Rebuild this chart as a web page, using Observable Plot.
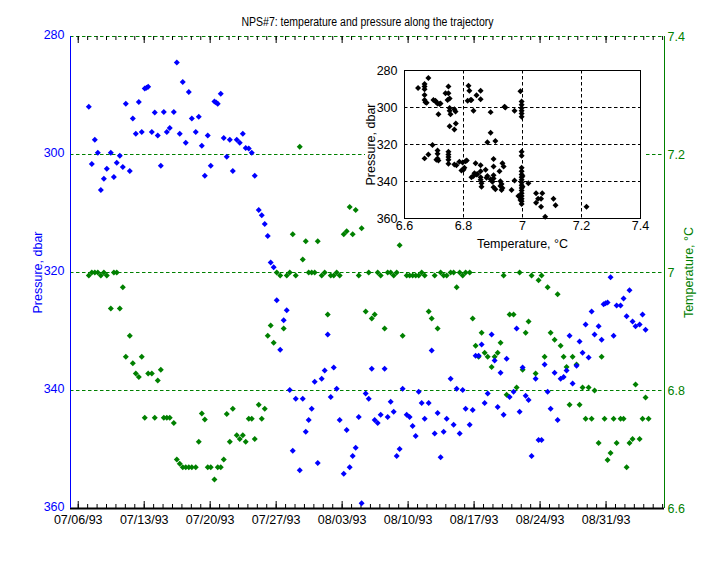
<!DOCTYPE html>
<html><head><meta charset="utf-8">
<script src="https://cdn.jsdelivr.net/npm/d3@7"></script>
<script src="https://cdn.jsdelivr.net/npm/@observablehq/plot@0.6"></script>
<style>
body{margin:0;background:#fff;}
#wrap{position:relative;width:714px;height:566px;}
#inset{position:absolute;left:365px;top:60px;}
svg{overflow:visible;}
</style></head><body><div id="wrap"><div id="main"></div><div id="inset"></div></div>
<script>
const FONT = '"Liberation Sans", Arial, Helvetica, sans-serif';
const BLUE = "#0000ff", GREEN = "#008000";
const title = "NPS#7: temperature and pressure along the trajectory";

// days since 07/06/93 00:00
const pressureDays = [
1.12,1.44,1.76,2.08,2.40,2.72,3.03,3.46,3.78,4.09,
4.41,4.73,5.05,5.47,5.79,6.11,6.43,6.74,7.06,7.24,
7.42,7.81,8.12,8.44,8.76,9.08,9.40,9.71,10.14,10.46,
10.77,11.09,11.41,11.73,12.05,12.47,12.79,13.11,13.43,13.74,
14.06,14.45,14.63,14.80,15.12,15.44,15.76,16.08,16.40,16.82,
17.14,17.46,17.77,18.09,18.41,18.73,19.15,19.47,19.79,20.11,
20.42,20.74,21.06,21.43,21.80,22.12,22.44,22.76,23.08,23.50,
23.82,24.14,24.45,24.77,25.09,25.41,25.83,26.15,26.47,26.79,
27.11,27.42,27.74,28.17,28.48,28.80,29.12,29.44,29.76,30.07,
30.50,30.82,31.14,31.45,31.77,32.09,32.51,32.83,33.15,33.47,
33.79,34.10,34.42,34.85,35.16,35.48,35.80,36.12,36.44,36.76,
37.18,37.50,37.82,38.13,38.45,38.77,39.09,39.51,39.83,40.15,
40.47,40.79,41.10,41.53,41.85,42.16,42.48,42.80,43.12,43.44,
43.86,44.18,44.50,44.81,45.13,45.45,45.77,46.19,46.51,46.83,
47.15,47.47,47.78,48.10,48.53,48.84,49.16,49.48,49.80,50.12,
50.54,50.86,51.18,51.50,51.81,52.13,52.45,52.87,53.19,53.51,
53.83,54.15,54.47,54.78,55.21,55.53,55.74,55.95,56.16,56.48,
56.80,57.12,57.54,57.86,58.18,58.49,58.81,59.13,59.56,59.87,60.19];
const pressureValues = [
291.9,301.6,297.5,299.7,306.0,304.1,302.4,299.7,303.8,301.4,
300.2,302.1,291.4,302.8,293.9,296.5,291.1,296.2,288.8,288.7,
288.5,296.2,292.9,296.8,301.9,292.8,296.2,295.5,292.8,284.4,
296.5,287.7,298.0,289.4,293.9,296.2,293.6,298.5,303.6,296.8,
301.9,291.0,291.2,291.4,289.7,297.2,300.4,297.5,302.8,297.5,
298.0,296.5,298.9,299.0,299.7,303.6,309.4,310.3,311.8,313.8,
318.3,319.1,324.7,333.1,328.1,326.4,339.9,350.2,341.4,353.5,
341.4,347.0,345.0,343.1,338.5,352.3,338.0,336.6,330.5,341.1,
336.1,339.7,345.0,354.1,346.7,353.0,351.1,349.7,344.5,359.1,
340.5,341.4,336.3,345.0,345.5,344.1,336.3,344.5,341.9,343.6,
351.1,349.9,339.7,344.1,344.5,346.0,347.7,340.2,342.1,344.8,
342.1,333.2,347.3,343.8,351.3,347.0,344.8,338.0,345.8,339.7,
347.3,339.9,343.1,345.8,343.3,334.1,334.1,332.2,342.1,340.5,
330.5,334.9,342.8,337.0,344.1,334.6,341.1,340.2,329.5,343.6,
336.1,340.9,341.6,351.1,338.0,348.4,348.4,335.6,340.2,343.1,
337.0,345.0,338.0,337.7,336.6,330.7,338.8,335.8,331.7,333.6,
328.8,334.4,326.6,330.5,329.1,331.4,325.4,325.2,325.1,320.8,
330.7,325.6,325.6,324.4,327.4,323.0,328.3,329.1,328.8,327.1,329.7];

const tempDays = [
1.12,1.44,1.76,2.08,2.40,2.72,3.03,3.46,3.78,4.09,
4.41,4.73,5.05,5.47,5.79,6.11,6.43,6.74,7.06,7.42,
7.81,8.12,8.44,8.76,9.08,9.40,9.71,10.14,10.46,10.77,
11.09,11.41,11.73,12.05,12.47,12.79,13.11,13.43,13.74,14.06,
14.45,14.80,15.12,15.44,15.76,16.08,16.40,16.82,17.14,17.46,
17.77,18.09,18.41,18.73,19.15,19.47,19.79,20.11,20.42,20.74,
21.06,21.43,21.80,22.12,22.44,22.76,23.08,23.50,23.82,24.14,
24.45,24.77,25.09,25.41,25.83,26.15,26.47,26.79,27.11,27.42,
27.74,28.17,28.48,28.80,29.12,29.44,29.76,30.07,30.50,30.82,
31.14,31.45,31.77,32.09,32.51,32.83,33.15,33.47,33.79,34.10,
34.42,34.85,35.16,35.48,35.80,36.12,36.44,36.76,37.18,37.50,
37.82,38.13,38.45,38.77,39.09,39.51,39.83,40.15,40.47,40.79,
41.10,41.53,41.85,42.16,42.48,42.80,43.12,43.44,43.86,44.18,
44.50,44.81,45.13,45.45,45.77,46.19,46.51,46.83,47.15,47.47,
47.78,48.10,48.53,48.84,49.16,49.48,49.80,50.12,50.54,50.86,
51.18,51.50,51.81,52.13,52.45,52.87,53.19,53.51,53.83,54.15,
54.47,54.78,55.21,55.53,55.84,56.16,56.48,56.80,57.12,57.54,
57.86,58.18,58.49,58.81,59.13,59.56,59.87,60.19,60.51];
const tempValues = [
6.995,7.000,7.000,7.000,6.995,7.000,6.995,6.939,7.000,7.000,
6.939,6.975,6.857,6.893,6.846,6.829,6.823,6.857,6.754,6.829,
6.829,6.754,6.817,6.835,6.754,6.754,6.754,6.745,6.683,6.676,
6.670,6.670,6.670,6.670,6.670,6.713,6.761,6.751,6.670,6.670,
6.649,6.670,6.670,6.683,6.760,6.713,6.769,6.724,6.718,6.724,
6.713,6.752,6.752,6.718,6.776,6.752,6.769,6.893,6.910,6.881,
7.000,6.995,6.905,6.995,7.000,7.065,6.995,7.213,7.022,7.053,
7.000,7.000,7.000,7.053,6.995,7.000,6.929,6.995,6.995,7.000,
6.995,7.065,7.070,7.111,7.065,7.106,6.995,7.075,6.934,7.000,
6.922,6.929,7.000,6.995,6.905,7.000,7.000,6.995,7.000,7.046,
6.893,6.995,6.995,6.995,6.995,6.995,7.000,6.995,6.934,6.922,
6.995,6.905,7.000,6.995,6.995,7.000,7.000,6.975,7.000,6.995,
7.000,7.000,6.922,6.876,6.857,6.898,6.864,6.857,6.840,6.857,
6.864,6.881,6.995,6.793,6.929,6.929,6.805,7.000,6.835,6.898,
6.917,6.995,6.829,6.987,6.995,6.857,6.975,6.898,6.886,6.963,
6.876,6.857,6.840,6.776,6.857,6.844,6.776,6.805,6.752,6.805,
6.752,6.800,6.711,6.857,6.752,6.682,6.694,6.752,6.711,6.752,
6.752,6.670,6.711,6.718,6.810,6.718,6.752,6.788,6.752];

const insetTemps = [
6.646,6.668,6.668,6.668,6.668,6.668,6.671,6.675,6.681,6.698,
6.705,6.708,6.712,6.719,6.722,6.715,6.739,6.749,6.746,6.749,
6.753,6.753,6.753,6.756,6.753,6.769,6.773,6.769,6.774,6.817,
6.820,6.814,6.824,6.827,6.834,6.844,6.858,6.858,6.892,6.939,
6.942,6.973,6.993,6.997,6.997,6.997,6.997,6.997,6.997,6.892,
6.881,6.908,6.695,6.668,6.681,6.712,6.712,6.712,6.715,6.708,
6.749,6.749,6.749,6.749,6.749,6.769,6.776,6.786,6.797,6.807,
6.811,6.793,6.800,6.803,6.827,6.834,6.841,6.837,6.844,6.847,
6.858,6.858,6.858,6.858,6.861,6.861,6.875,6.878,6.881,6.892,
6.898,6.902,6.902,6.902,6.902,6.902,6.908,6.922,6.925,6.929,
6.925,6.932,6.929,6.932,6.936,6.963,6.973,6.986,6.997,6.997,
6.997,6.997,6.997,6.997,6.997,6.997,6.997,6.997,6.997,6.997,
6.997,6.997,6.997,6.997,6.990,6.993,7.000,7.000,7.020,7.046,
7.046,7.053,7.063,7.067,7.063,7.077,7.105,7.112,7.217];
const insetPressures = [
289.4,287.3,288.7,290.2,293.2,296.0,297.1,297.4,284.0,296.0,
296.3,297.1,297.8,298.1,297.8,303.6,292.3,288.7,296.0,292.3,
295.2,300.3,301.8,303.6,310.1,301.0,302.1,311.9,308.7,288.2,
290.9,296.3,296.0,296.0,301.8,293.4,290.9,295.6,302.5,299.6,
300.0,301.8,291.2,296.7,298.5,300.3,301.8,303.2,305.0,313.7,
318.8,318.1,320.3,327.5,325.4,323.2,325.0,327.5,328.6,328.3,
323.9,325.4,326.8,328.3,330.4,330.8,331.2,329.3,329.7,329.0,
328.6,334.1,333.7,332.6,337.7,337.0,330.1,335.5,336.2,335.9,
331.2,334.4,337.7,339.1,341.0,342.8,333.7,338.0,337.0,338.8,
340.2,338.4,327.9,331.9,336.6,343.1,344.2,334.4,339.9,341.3,
342.4,343.5,344.6,330.1,331.9,344.6,339.5,347.8,323.9,326.1,
332.6,334.4,336.2,337.7,339.1,340.6,342.0,343.5,344.9,346.4,
347.8,349.3,350.7,352.2,348.2,350.0,337.0,342.8,341.0,346.4,
351.5,349.3,349.3,346.4,353.7,359.1,349.3,352.9,353.7];

const dateTickLabels = ["07/06/93","07/13/93","07/20/93","07/27/93","08/03/93","08/10/93","08/17/93","08/24/93","08/31/93"];
const pressureTicks = [280,300,320,340,360];
const tempTicks = [7.4,7.2,7.0,6.8,6.6];
const tempTickLabels = ["7.4","7.2","7","6.8","6.6"];
const insetTempTicks = [6.6,6.8,7.0,7.2,7.4];
const insetTempLabels = ["6.6","6.8","7","7.2","7.4"];

// helpers
const origin = Date.UTC(1993,6,6);
const toDate = d => new Date(origin + d*864e5);
const tToP = t => 280 + (7.4 - t)*100; // temperature on the shared (pressure) axis
const parseTick = d3.utcParse("%m/%d/%y");
const weekly = dateTickLabels.map(parseTick);
const daily = d3.utcDay.range(new Date(Date.UTC(1993,6,6)), new Date(Date.UTC(1993,8,7)));
const xDomain = [toDate(-0.82), toDate(62.2)];

const blueData = pressureDays.map((d,i)=>({date:toDate(d), p:pressureValues[i]}));
const greenData = tempDays.map((d,i)=>({date:toDate(d), p:tToP(tempValues[i])}));
const insetData = insetTemps.map((t,i)=>({t, p:insetPressures[i]}));

const dash = "3.5,2.5";
const main = Plot.plot({
  width:714, height:566, marginLeft:70, marginRight:50, marginTop:36, marginBottom:58,
  style:{fontFamily:FONT, fontSize:"12.5px", background:"white", overflow:"visible"},
  x:{type:"utc", domain:xDomain},
  y:{domain:[280,360], reverse:true},
  marks:[
    Plot.ruleY(tempTicks.slice(0,4).map(tToP), {stroke:GREEN, strokeDasharray:dash}),
    Plot.tickX(daily, {x:d=>d, stroke:"black", insetTop:468}),
    Plot.tickX(weekly, {x:d=>d, stroke:"black", insetTop:465}),
    Plot.tickX(daily, {x:d=>d, stroke:"black", insetBottom:468}),
    Plot.tickX(weekly, {x:d=>d, stroke:"black", insetBottom:465}),
    Plot.ruleY([360], {stroke:"black", strokeWidth:2}),
    Plot.ruleX([xDomain[0]], {stroke:BLUE}),
    Plot.ruleX([xDomain[1]], {stroke:GREEN}),
    Plot.dot(greenData, {x:"date", y:"p", symbol:"diamond2", r:2.7, fill:GREEN}),
    Plot.dot(blueData, {x:"date", y:"p", symbol:"diamond2", r:2.7, fill:BLUE}),
    Plot.axisX({ticks:weekly, tickFormat:d3.utcFormat("%m/%d/%y"), tickSize:0, tickPadding:7, label:null, fill:"black"}),
    Plot.axisY({anchor:"left", ticks:pressureTicks, tickSize:0, tickPadding:6, dy:-2, label:null, color:BLUE}),
    Plot.axisY({anchor:"right", ticks:tempTicks.map(tToP), tickFormat:p=>tempTickLabels[tempTicks.findIndex(t=>Math.abs(tToP(t)-p)<1e-6)], tickSize:0, tickPadding:3, label:null, color:GREEN}),
    Plot.text(["Pressure, dbar"], {frameAnchor:"left", dx:-33, rotate:-90, textAnchor:"middle", lineAnchor:"middle", fill:BLUE}),
    Plot.text(["Temperature, °C"], {frameAnchor:"right", dx:24, rotate:-90, textAnchor:"middle", lineAnchor:"middle", fill:GREEN}),
    Plot.text([title], {frameAnchor:"top", dy:-15, textAnchor:"middle", lineAnchor:"middle", fill:"black", fontSize:12.5})
  ]
});
document.getElementById("main").append(main);
// narrow the title to the reference's condensed width
main.querySelectorAll("text").forEach(t => {
  if (t.textContent === title) { t.setAttribute("textLength", "252"); t.setAttribute("lengthAdjust", "spacingAndGlyphs"); }
});

const inset = Plot.plot({
  width:280, height:178, marginLeft:39, marginRight:5, marginTop:10, marginBottom:20,
  style:{fontFamily:FONT, fontSize:"12.5px", background:"white", overflow:"visible"},
  x:{domain:[6.6,7.4]},
  y:{domain:[280,360], reverse:true},
  marks:[
    Plot.ruleX([6.8,7.0,7.2], {stroke:"black", strokeDasharray:dash}),
    Plot.ruleY([300,320,340], {stroke:"black", strokeDasharray:dash}),
    Plot.frame({stroke:"black"}),
    Plot.dot(insetData, {x:"t", y:"p", symbol:"diamond2", r:2.7, fill:"black"}),
    Plot.axisX({ticks:insetTempTicks, tickFormat:d=>insetTempLabels[insetTempTicks.findIndex(t=>Math.abs(t-d)<1e-6)], tickSize:0, tickPadding:2.5, label:null}),
    Plot.axisY({ticks:pressureTicks, tickSize:0, tickPadding:7, label:null}),
    Plot.text(["Temperature, °C"], {frameAnchor:"bottom", dy:25.5, textAnchor:"middle", lineAnchor:"middle"}),
    Plot.text(["Pressure, dbar"], {frameAnchor:"left", dx:-34, rotate:-90, textAnchor:"middle", lineAnchor:"middle"})
  ]
});
document.getElementById("inset").append(inset);
</script></body></html>
